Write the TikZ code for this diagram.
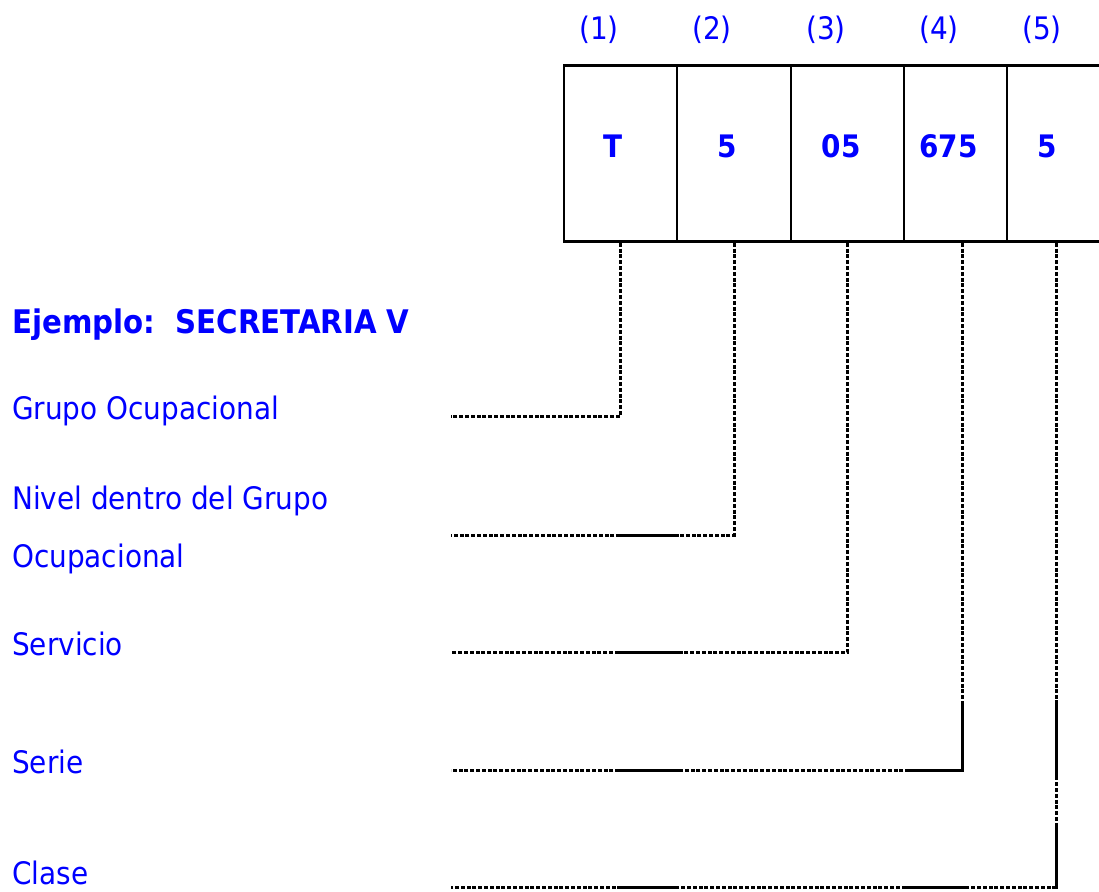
\documentclass[tikz,border=0pt]{standalone}
\usepackage{fontspec}
\setmainfont{DejaVu Sans Condensed}
\definecolor{txtblue}{RGB}{0,0,255}
\tikzset{
  cell/.style={draw, line width=2.6pt, minimum height=176pt, inner sep=0pt},
  val/.style={txtblue, anchor=base, inner sep=0pt, font=\bfseries},
  num/.style={txtblue, anchor=base, inner sep=0pt},
  lbl/.style={txtblue, anchor=base west, inner sep=0pt},
  conn/.style={line width=3pt, dash pattern=on 4pt off 1.8pt},
  solidpart/.style={line width=3pt}
}
\begin{document}
\fontsize{31}{36}\selectfont
\begin{tikzpicture}[x=1pt, y=-1pt]
            \useasboundingbox (0,0) rectangle (1099,891);

            % casillas del codigo
            \foreach \n/\x/\w in {1/620.5/113, 2/734/114, 3/847.5/113, 4/955.5/103, 5/1054/94}
                \node[cell, minimum width=\w pt] (c\n) at (\x,153.5) {};

            \foreach \n/\v/\x in {1/T/613, 2/5/727, 3/05/841, 4/675/948.5, 5/5/1047}
                \node[val] (v\n) at (\x,157) {\v};

            \foreach \n/\x in {1/599, 2/712, 3/826, 4/939, 5/1042}
                \node[num] (n\n) at (\x,40) {(\n)};

            % textos
            \node[lbl, font=\bfseries\fontsize{32.5}{38}\selectfont] (ejemplo) at (12,333) {Ejemplo:\ \ SECRETARIA V};
            \node[lbl] (grupo) at (12,419) {Grupo Ocupacional};
            \node[lbl] (nivel) at (12,509) {Nivel dentro del Grupo};
            \node[lbl] (nivelb) at (12,567) {Ocupacional};
            \node[lbl] (servicio) at (12,655) {Servicio};
            \node[lbl] (serie) at (12,773) {Serie};
            \node[lbl] (clase) at (12,884) {Clase};

            % lineas
            \foreach \n/\y in {1/416, 2/535, 3/652, 4/770, 5/887}
                \coordinate (e\n) at (451,\y);

            \draw[conn] (c1.south) |- (e1);
            \draw[conn] (c2.south) |- (e2);
            \draw[conn] (c3.south) |- (e3);
            \draw[conn] ([xshift=6.5pt]c4.south) |- (e4);
            \draw[conn] ([xshift=2pt]c5.south) |- (e5);

            \foreach \y in {535, 652, 770, 887}
                \draw[solidpart] (617,\y) -- (679,\y);
            \draw[solidpart] (905,770) -- (962,770) -- (962,705);
            \draw[solidpart] (905,887) -- (966,887);
            \draw[solidpart] (1056,700) -- (1056,777) (1056,827) -- (1056,887);
        \end{tikzpicture}
\end{document}
